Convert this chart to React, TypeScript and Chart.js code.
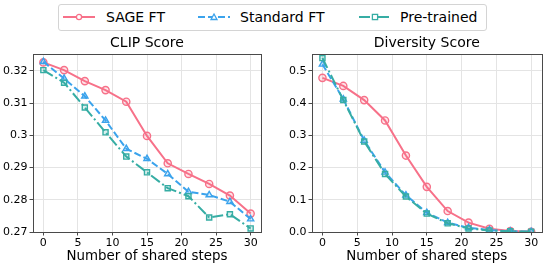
import React, { useEffect, useRef } from 'react';
import { Chart, registerables } from 'chart.js';
Chart.register(...registerables);

const steps = [0, 3, 6, 9, 12, 15, 18, 21, 24, 27, 30];
const xTicks = [0, 5, 10, 15, 20, 25, 30];

const clipSage = [0.3226, 0.3202, 0.3168, 0.314, 0.3104, 0.2998, 0.2913, 0.288, 0.2849, 0.2813, 0.2757];
const clipStandard = [0.3228, 0.3176, 0.3121, 0.3046, 0.2958, 0.2927, 0.288, 0.2825, 0.2815, 0.2794, 0.274];
const clipPre = [0.3202, 0.3163, 0.3086, 0.3009, 0.2934, 0.2885, 0.2836, 0.2811, 0.2745, 0.2755, 0.2711];
const clipTicks = [0.27, 0.28, 0.29, 0.3, 0.31, 0.32];

const divSage = [0.478, 0.453, 0.409, 0.346, 0.237, 0.14, 0.065, 0.029, 0.01, 0.003, 0.001];
const divStandard = [0.52, 0.412, 0.284, 0.185, 0.114, 0.06, 0.029, 0.013, 0.006, 0.002, 0.001];
const divPre = [0.5395, 0.409, 0.281, 0.18, 0.11, 0.057, 0.027, 0.011, 0.005, 0.002, 0.001];
const divTicks = [0, 0.1, 0.2, 0.3, 0.4, 0.5];

const seriesNames = ['SAGE FT', 'Standard FT', 'Pre-trained'];
const colors = ['#f77189', '#3ba3ec', '#36ada4'];
const fills = ['rgba(247,113,137,0.18)', 'rgba(59,163,236,0.18)', 'rgba(54,173,164,0.18)'];
const pointStyles = ['circle', 'triangle', 'rect'];
const dashes = [[], [7, 3], [11, 3, 2, 3]];

const FONT = '"DejaVu Sans", sans-serif';

const framePlugin = {
  id: 'frame',
  afterDraw(chart: any) {
    const { ctx, chartArea: a } = chart;
    ctx.save();
    ctx.strokeStyle = '#4a4a4a';
    ctx.lineWidth = 1;
    ctx.strokeRect(Math.round(a.left) + 0.5, Math.round(a.top) + 0.5, Math.round(a.right - a.left), Math.round(a.bottom - a.top));
    ctx.restore();
  },
};

function buildConfig(title: string, data: number[][], yMin: number, yMax: number, yTicks: number[], yFmt: (v: number) => string, padRight: number) {
  return {
    type: 'line',
    data: {
      labels: steps,
      datasets: data.map((d, i) => ({
        label: seriesNames[i],
        data: steps.map((s, j) => ({ x: s, y: d[j] })),
        borderColor: colors[i],
        backgroundColor: fills[i],
        pointBackgroundColor: fills[i],
        pointBorderColor: colors[i],
        borderWidth: 2,
        borderDash: dashes[i],
        pointStyle: pointStyles[i],
        pointRadius: 3.6,
        pointBorderWidth: 1.4,
        tension: 0,
        fill: false,
        order: 3 - i,
      })),
    },
    options: {
      responsive: false,
      animation: false,
      devicePixelRatio: 1,
      layout: { padding: { left: 0, right: padRight, top: 0, bottom: 0 } },
      plugins: {
        legend: { display: false },
        tooltip: { enabled: false },
        title: {
          display: true,
          text: title,
          fullSize: false,
          color: '#000',
          font: { family: FONT, size: 14, weight: 'normal' },
          padding: { top: 2.6, bottom: 2.6 },
        },
      },
      scales: {
        x: {
          type: 'linear',
          min: -1.5,
          max: 31.5,
          afterBuildTicks: (s: any) => { s.ticks = xTicks.map((v) => ({ value: v })); },
          afterFit: (s: any) => { s.height = 34; },
          grid: { color: '#e4e4e4', lineWidth: 1, drawTicks: true, tickLength: 3.5, tickColor: '#4a4a4a' },
          border: { display: false },
          ticks: { color: '#000', font: { family: FONT, size: 11 }, padding: 1, maxRotation: 0, autoSkip: false, callback: (v: any) => String(v) },
          title: { display: true, text: 'Number of shared steps', color: '#000', font: { family: FONT, size: 13.4 }, padding: { top: 0, bottom: 1 } },
        },
        y: {
          type: 'linear',
          min: yMin,
          max: yMax,
          afterBuildTicks: (s: any) => { s.ticks = yTicks.map((v) => ({ value: v })); },
          afterFit: (s: any) => { s.width = 33; },
          grid: { color: '#e4e4e4', lineWidth: 1, drawTicks: true, tickLength: 3.5, tickColor: '#4a4a4a' },
          border: { display: false },
          ticks: { color: '#000', font: { family: FONT, size: 11 }, padding: 2, autoSkip: false, callback: (v: any) => yFmt(Number(v)) },
        },
      },
    },
    plugins: [framePlugin],
  };
}

function ChartCanvas({ cfg, left, top, width, height }: any) {
  const ref = useRef<HTMLCanvasElement>(null);
  useEffect(() => {
    const chart = new Chart(ref.current as HTMLCanvasElement, cfg as any);
    return () => chart.destroy();
  }, []);
  return (
    <canvas ref={ref} width={width} height={height} style={{ position: 'absolute', left, top, width, height }} />
  );
}

function LegendSample({ i, left }: { i: number; left: number }) {
  const c = colors[i];
  const marker =
    i === 0 ? <circle cx={16} cy={6} r={2.6} fill="#fff" stroke={c} strokeWidth={1.3} /> :
    i === 1 ? <polygon points="16,3 19,8.5 13,8.5" fill="#fff" stroke={c} strokeWidth={1.3} /> :
      <rect x={13.4} y={3.4} width={5.2} height={5.2} fill="#fff" stroke={c} strokeWidth={1.3} />;
  return (
    <svg width={32} height={12} style={{ position: 'absolute', left, top: 11 }}>
      <line x1={0} y1={6} x2={32} y2={6} stroke={c} strokeWidth={2} strokeDasharray={dashes[i].length ? dashes[i].join(' ') : undefined} />
      {marker}
    </svg>
  );
}

export default function App() {
  const leftCfg = buildConfig('CLIP Score', [clipSage, clipStandard, clipPre], 0.27, 0.3252, clipTicks, (v) => String(Number(v.toFixed(2))), 11);
  const rightCfg = buildConfig('Diversity Score', [divSage, divStandard, divPre], 0, 0.552, divTicks, (v) => v.toFixed(1), 5);
  const sampleLefts = [63, 198, 359];
  const textLefts = [106, 240, 400];
  return (
    <div style={{ position: 'fixed', left: 0, top: 0, width: 547, height: 266, background: '#fff', fontFamily: FONT }}>
      <div style={{ position: 'absolute', left: 58, top: 4, width: 429, height: 27, border: '1px solid #d4d4d4', borderRadius: 3, boxSizing: 'border-box' }} />
      {seriesNames.map((n, i) => (
        <React.Fragment key={n}>
          <LegendSample i={i} left={sampleLefts[i]} />
          <div style={{ position: 'absolute', left: textLefts[i], top: 8, fontSize: 14, lineHeight: '18px', color: '#000', whiteSpace: 'nowrap' }}>{n}</div>
        </React.Fragment>
      ))}
      <ChartCanvas cfg={leftCfg} left={0} top={32} width={272} height={234} />
      <ChartCanvas cfg={rightCfg} left={279} top={32} width={268} height={234} />
    </div>
  );
}
